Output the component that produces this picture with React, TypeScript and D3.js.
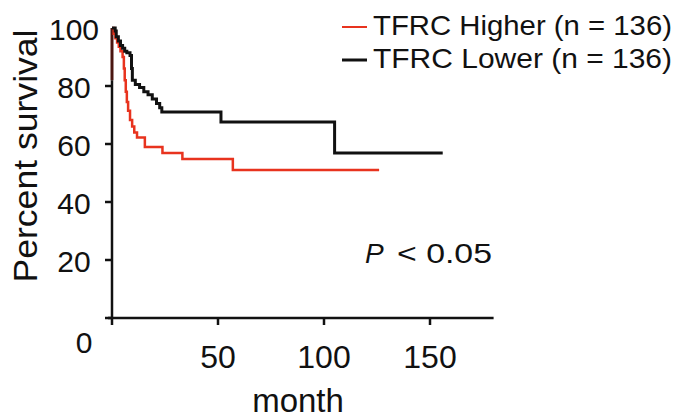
import React from 'react';
import * as d3 from 'd3';

// Kaplan-Meier steps: [month, percent survival]
const higherSteps: [number, number][] = [
  [0, 100], [0.8, 98], [1.6, 96.5], [2.4, 95], [3.2, 93.5], [4, 92], [5, 90],
  [5.6, 86], [6, 82], [6.5, 78], [7, 74.5], [7.6, 71.5], [8.5, 68.3], [9.5, 66],
  [10.5, 64], [11.8, 62.2], [15.5, 59], [23.8, 56.9], [33.2, 54.8], [57, 51], [126, 51],
];
const lowerSteps: [number, number][] = [
  [0, 100], [1.5, 99], [2, 97], [3, 95.5], [4, 94], [5, 93], [6, 92], [7, 91.5],
  [8.5, 90.5], [9.2, 86], [9.6, 82], [11, 80.5], [13, 79.5], [15, 78], [17, 77],
  [19, 75.5], [21, 74], [22.5, 72.5], [23.5, 71], [51.4, 67.6], [105, 56.9], [156, 56.9],
];
const yTicks = [20, 40, 60, 80, 100];
const xTicks = [50, 100, 150];
const seriesNames = ['TFRC Higher (n = 136)', 'TFRC Lower (n = 136)'];
const seriesColors = ['#e8331e', '#111111'];

const font = 'Arial, "Liberation Sans", Helvetica, sans-serif';

export default function App() {
  const x = d3.scaleLinear().domain([0, 180]).range([112, 493.6]);
  const y = d3.scaleLinear().domain([0, 100]).range([318, 28]);

  const line = d3.line<[number, number]>()
    .x(d => x(d[0]))
    .y(d => y(d[1]))
    .curve(d3.curveStepAfter);

  return (
    <div style={{ position: 'absolute', left: 0, top: 0 }}>
      <svg width={673} height={419} style={{ display: 'block', background: '#fff' }} fontFamily={font}>
        {/* axes */}
        <line x1={x(0)} x2={x(0)} y1={y(0)} y2={y(82)} stroke="#111" strokeWidth={2.5} />
        <line x1={x(0)} x2={x(0)} y1={y(82)} y2={y(100)} stroke="#4a1510" strokeWidth={3} />
        <line x1={x(0) - 4} x2={x(180)} y1={y(0)} y2={y(0)} stroke="#111" strokeWidth={2.5} />
        {yTicks.filter(t => t < 100).map(t => (
          <line key={'yt' + t} x1={x(0) - 7} x2={x(0)} y1={y(t)} y2={y(t)} stroke="#111" strokeWidth={2.5} />
        ))}
        <line x1={x(0) - 7} x2={x(0)} y1={y(0)} y2={y(0)} stroke="#111" strokeWidth={2.5} />
        {[0, ...xTicks].map(t => (
          <line key={'xt' + t} x1={x(t)} x2={x(t)} y1={y(0)} y2={y(0) + 7} stroke="#111" strokeWidth={2.5} />
        ))}

        {/* tick labels */}
        {yTicks.map(t => (
          <text key={'yl' + t} x={74} y={y(t) + 12} fontSize={30} textAnchor="middle" fill="#111">{t}</text>
        ))}
        <text x={84} y={353} fontSize={30} textAnchor="middle" fill="#111">0</text>
        {xTicks.map(t => (
          <text key={'xl' + t} x={x(t)} y={368} fontSize={32} textAnchor="middle" fill="#111">{t}</text>
        ))}

        {/* axis titles */}
        <text x={298} y={412} fontSize={33} textAnchor="middle" fill="#111">month</text>
        <text transform="translate(37,156) rotate(-90)" fontSize={33} textAnchor="middle" fill="#111"
          textLength={253} lengthAdjust="spacingAndGlyphs">Percent survival</text>

        {/* curves */}
        <path d={line(higherSteps) || ''} fill="none" stroke={seriesColors[0]} strokeWidth={2.5} />
        <path d={line(lowerSteps) || ''} fill="none" stroke={seriesColors[1]} strokeWidth={3} />

        {/* legend */}
        {seriesNames.map((name, i) => (
          <g key={name} transform={`translate(0, ${i * 33})`}>
            <line x1={342} x2={367} y1={27} y2={27} stroke={seriesColors[i]} strokeWidth={i === 0 ? 2 : 3} />
            <text x={373} y={35} fontSize={28} fill="#111" textLength={299} lengthAdjust="spacingAndGlyphs">{name}</text>
          </g>
        ))}

        {/* p value */}
        <text x={365} y={263} fontSize={28} fill="#111" fontStyle="italic">P</text>
        <text x={397} y={263} fontSize={28} fill="#111" textLength={95} lengthAdjust="spacingAndGlyphs">{'< 0.05'}</text>
      </svg>
    </div>
  );
}
